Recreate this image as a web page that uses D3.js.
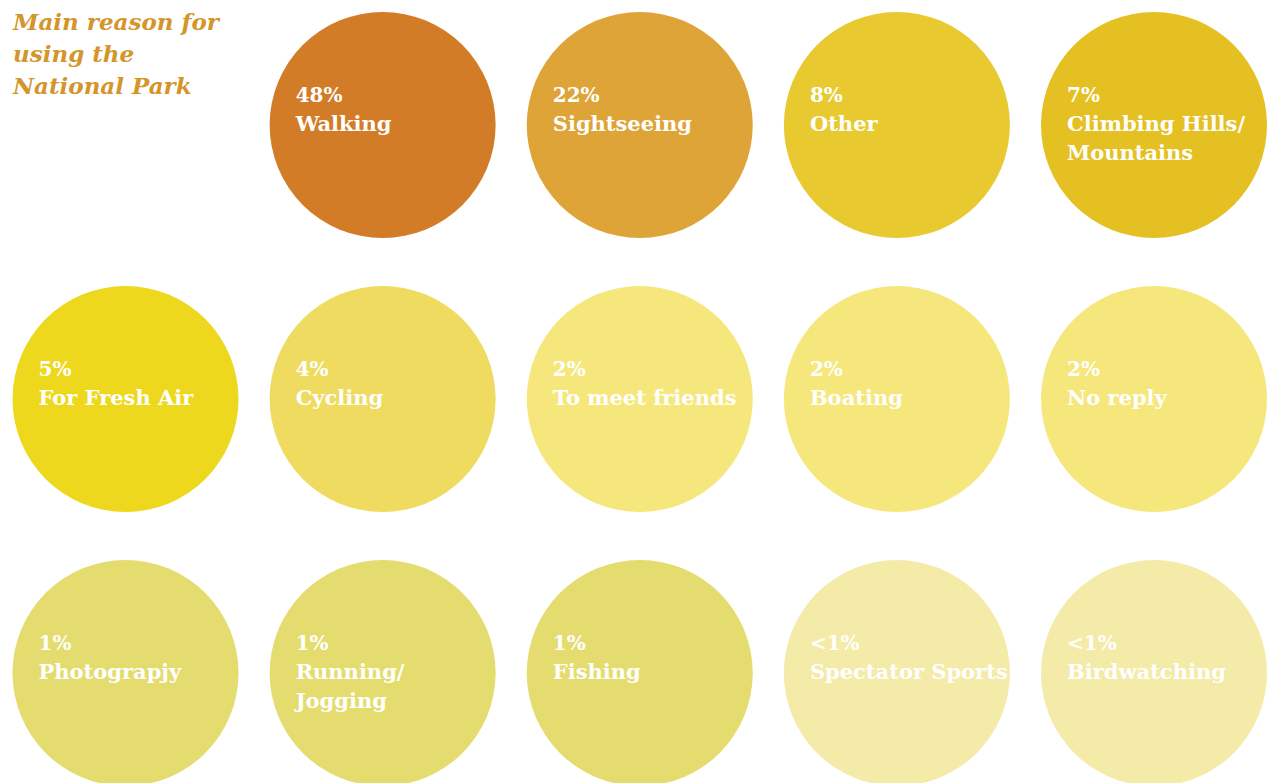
<!DOCTYPE html>
<html><head><meta charset="utf-8">
<script src="https://cdn.jsdelivr.net/npm/d3@7"></script>
<style>body{margin:0;background:#fff}svg{display:block}</style>
</head><body><svg id="c" width="1269" height="783"></svg>
<script>
const titleLines = ["Main reason for", "using the", "National Park"];
const categories = ["Walking","Sightseeing","Other","Climbing Hills/\nMountains","For Fresh Air","Cycling","To meet friends","Boating","No reply","Photograpjy","Running/\nJogging","Fishing","Spectator Sports","Birdwatching"];
const values = ["48%","22%","8%","7%","5%","4%","2%","2%","2%","1%","1%","1%","<1%","<1%"];
const colors = ["#D27C27","#DEA437","#E8C930","#E5C022","#EDD81E","#EEDB5F","#F6E77C","#F6E77C","#F6E77C","#E4DC6E","#E4DC6E","#E4DC6E","#F4EBA9","#F4EBA9"];
// slot index in a 3x5 grid (first slot holds title)
const slots = d3.range(1, 15);

const svg = d3.select("#c");
const x = d3.scalePoint().domain(d3.range(5)).range([125.5, 1154]);
const y = d3.scalePoint().domain(d3.range(3)).range([125, 673]);
const r = 113;

svg.append("g").selectAll("text").data(titleLines).join("text")
  .attr("x", 13).attr("y", (d,i)=>30+i*32)
  .attr("fill", "#D4952B").attr("font-family","DejaVu Serif").attr("font-style","italic")
  .attr("font-weight","bold").attr("font-size",23).text(d=>d);

const g = svg.append("g").selectAll("g").data(categories).join("g")
  .attr("transform",(d,i)=>`translate(${x(slots[i]%5)},${y(Math.floor(slots[i]/5))})`);
g.append("circle").attr("r", r).attr("fill",(d,i)=>colors[i]);
g.each(function(d,i){
  const lines = [values[i]].concat(d.split("\n"));
  d3.select(this).selectAll("text").data(lines).join("text")
    .attr("x",-87).attr("y",(t,j)=>-23+j*29)
    .attr("fill","#fff").attr("font-family","DejaVu Serif").attr("font-weight","bold")
    .attr("font-size",(t,j)=>j===0?20:21).text(t=>t);
});
</script></body></html>
